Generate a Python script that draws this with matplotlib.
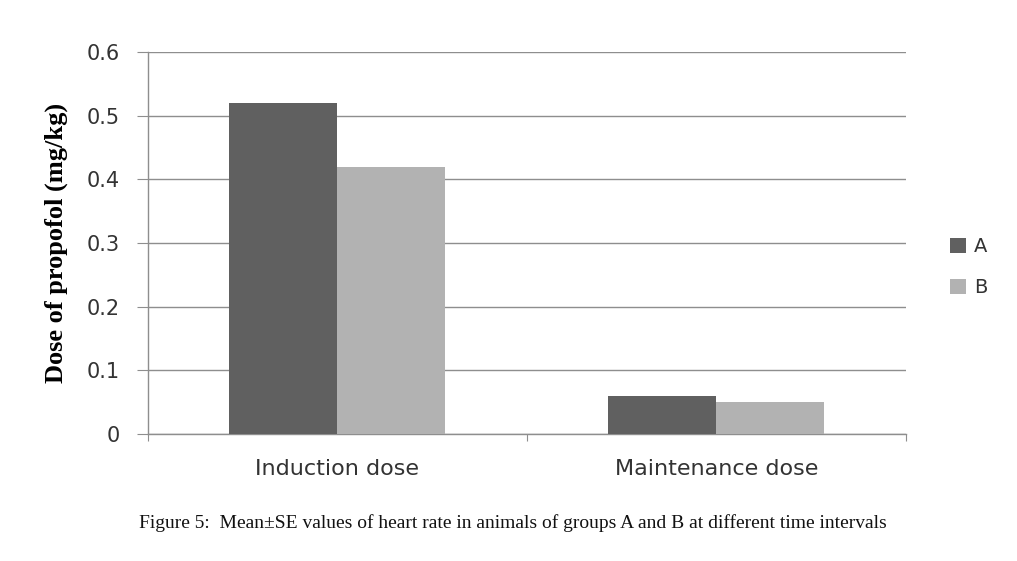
import matplotlib
matplotlib.use("Agg")
import matplotlib.pyplot as plt
import numpy as np

categories = ["Induction dose", "Maintenance dose"]
series_names = ["A", "B"]
values_A = [0.52, 0.06]
values_B = [0.42, 0.05]
yticks = [0, 0.1, 0.2, 0.3, 0.4, 0.5, 0.6]
ytick_labels = ["0", "0.1", "0.2", "0.3", "0.4", "0.5", "0.6"]

fig = plt.figure(figsize=(10.17, 5.61), dpi=100)
ax = fig.add_axes([0.1455, 0.2264, 0.7453, 0.681])

x = np.arange(len(categories))
w = 0.285
gray = "#8e8e8e"
txt = "#333333"
ax.bar(x - w/2, values_A, w, color="#606060", label=series_names[0], zorder=3)
ax.bar(x + w/2, values_B, w, color="#b2b2b2", label=series_names[1], zorder=3)

ax.set_xlim(-0.5, 1.5)
ax.set_ylim(0, 0.6)
ax.set_yticks(yticks)
ax.set_yticklabels(ytick_labels, fontfamily="DejaVu Sans", fontsize=15, color=txt)
ax.yaxis.grid(True, color=gray, linewidth=1.0, zorder=0)
ax.set_axisbelow(True)

ax.set_xticks([-0.5, 0.5, 1.5])
ax.set_xticklabels([])
ax.set_xticks(x, minor=True)
ax.set_xticklabels(categories, minor=True, fontfamily="DejaVu Sans", fontsize=16, color=txt)
ax.tick_params(axis="x", which="minor", length=0, pad=18)
ax.tick_params(axis="x", which="major", length=5, color=gray, direction="out")
ax.tick_params(axis="y", length=8, color=gray, direction="out", pad=12)

for s in ["top", "right"]:
    ax.spines[s].set_visible(False)
for s in ["left", "bottom"]:
    ax.spines[s].set_color(gray)
    ax.spines[s].set_linewidth(1.0)

ax.set_ylabel("Dose of propofol (mg/kg)", fontfamily="Liberation Serif", fontweight="bold",
              fontsize=19, labelpad=14)

leg = ax.legend(loc="center left", bbox_to_anchor=(1.035, 0.437), frameon=False,
                prop={"family": "DejaVu Sans", "size": 14}, handlelength=0.8, handleheight=0.8,
                labelspacing=1.15, handletextpad=0.45)
for t in leg.get_texts():
    t.set_color(txt)

fig.text(0.5045, 0.0677, "Figure 5:  Mean±SE values of heart rate in animals of groups A and B at different time intervals",
         ha="center", va="center", fontfamily="Liberation Serif", fontsize=14, color="#111111")

fig.savefig("out.png", dpi=100)
